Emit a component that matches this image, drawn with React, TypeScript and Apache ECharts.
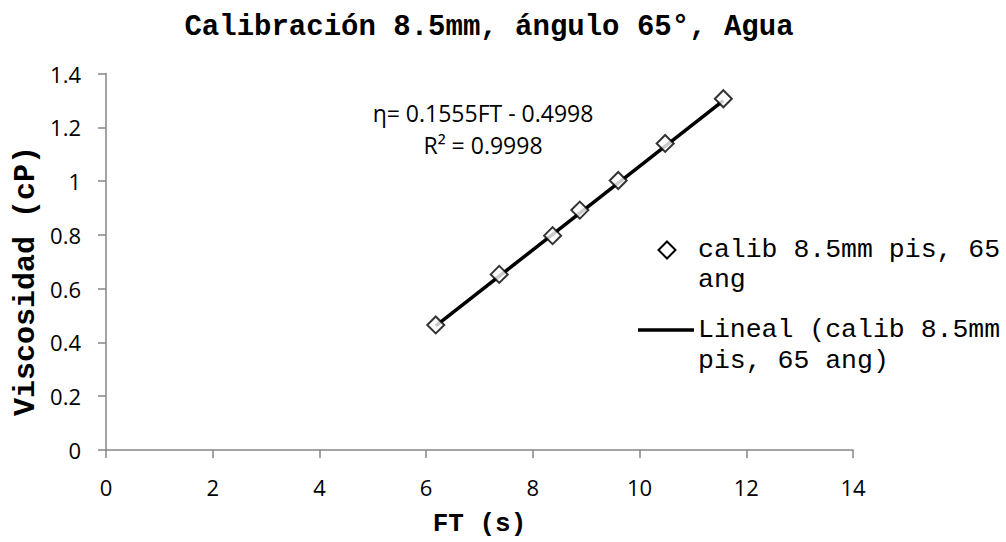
import React, { useEffect, useRef } from "react";
import * as echarts from "echarts";

const ftValues = [6.18, 7.37, 8.37, 8.88, 9.6, 10.48, 11.57];
const viscValues = [0.465, 0.653, 0.797, 0.892, 1.002, 1.14, 1.306];
const trendSlope = 0.1555;
const trendIntercept = -0.4998;
const seriesName = "calib 8.5mm pis, 65 ang";
const trendName = "Lineal (calib 8.5mm pis, 65 ang)";
const xTicks = { min: 0, max: 14, step: 2 };
const yTicks = { min: 0, max: 1.4, step: 0.2 };

const MONO = "'Liberation Mono', 'Courier New', monospace";
const SANS = "'Open Sans', 'Noto Sans', sans-serif";

function txt(text: string, x: number, y: number, font: string, align = "left", rotation = 0) {
  return {
    type: "text",
    x,
    y,
    rotation,
    style: { text, font, fill: "#000", textAlign: align, textVerticalAlign: "middle" },
  };
}

export default function App() {
  const ref = useRef<HTMLDivElement>(null);
  useEffect(() => {
    if (!ref.current) return;
    const chart = echarts.init(ref.current, null, { renderer: "svg" });
    const points = ftValues.map((x, i) => [x, viscValues[i]]);
    const xMin = ftValues[0];
    const xMax = ftValues[ftValues.length - 1];
    const trend = [
      [xMin, trendSlope * xMin + trendIntercept],
      [xMax, trendSlope * xMax + trendIntercept],
    ];
    chart.setOption({
      animation: false,
      backgroundColor: "#fff",
      title: {
        text: "Calibración 8.5mm, ángulo 65°, Agua",
        left: 484,
        textAlign: "center",
        top: 8,
        textStyle: { fontFamily: MONO, fontWeight: "bold", fontSize: 29, color: "#000" },
      },
      grid: { left: 106, right: 153, top: 73.5, bottom: 87, containLabel: false },
      xAxis: {
        type: "value",
        min: xTicks.min,
        max: xTicks.max,
        interval: xTicks.step,
        name: "FT (s)",
        nameLocation: "middle",
        nameGap: 61,
        nameTextStyle: { fontFamily: MONO, fontWeight: "bold", fontSize: 26, color: "#000" },
        axisLine: { show: true, lineStyle: { color: "#868686", width: 1.5 } },
        axisTick: { show: true, length: 8, lineStyle: { color: "#868686", width: 1.5 } },
        axisLabel: { fontFamily: SANS, fontSize: 22, color: "#000", margin: 26 },
        splitLine: { show: false },
      },
      yAxis: {
        type: "value",
        min: yTicks.min,
        max: yTicks.max,
        interval: yTicks.step,
        axisLine: { show: true, lineStyle: { color: "#868686", width: 1.5 } },
        axisTick: { show: true, length: 8, lineStyle: { color: "#868686", width: 1.5 } },
        axisLabel: { fontFamily: SANS, fontSize: 22, color: "#000", margin: 25 },
        splitLine: { show: false },
      },
      series: [
        {
          name: trendName,
          type: "line",
          data: trend,
          symbol: "none",
          lineStyle: { color: "#000", width: 3.5 },
          z: 2,
        },
        {
          name: seriesName,
          type: "scatter",
          data: points,
          symbol: "diamond",
          symbolSize: [17, 17],
          itemStyle: { color: "#fff", borderColor: "#000", borderWidth: 2 },
          z: 3,
        },
      ],
      graphic: [
        txt("Viscosidad (cP)", 26, 281, `bold 30px ${MONO}`, "center", Math.PI / 2),
        txt("η= 0.1555FT - 0.4998", 483, 113, `23px ${SANS}`, "center"),
        txt("R² = 0.9998", 483, 145, `23px ${SANS}`, "center"),
        {
          type: "polygon",
          shape: { points: [[667, 241.5], [675.5, 250], [667, 258.5], [658.5, 250]] },
          style: { fill: "#fff", stroke: "#000", lineWidth: 2 },
        },
        txt("calib 8.5mm pis, 65", 698, 250, `26.5px ${MONO}`),
        txt("ang", 698, 280, `26.5px ${MONO}`),
        {
          type: "line",
          shape: { x1: 638, y1: 330, x2: 694, y2: 330 },
          style: { stroke: "#000", lineWidth: 3.5 },
        },
        txt("Lineal (calib 8.5mm", 698, 330, `26.5px ${MONO}`),
        txt("pis, 65 ang)", 698, 361, `26.5px ${MONO}`),
      ],
    });
    return () => chart.dispose();
  }, []);
  return (
    <div
      ref={ref}
      style={{ position: "absolute", left: 0, top: 0, width: 1006, height: 542 }}
    />
  );
}
